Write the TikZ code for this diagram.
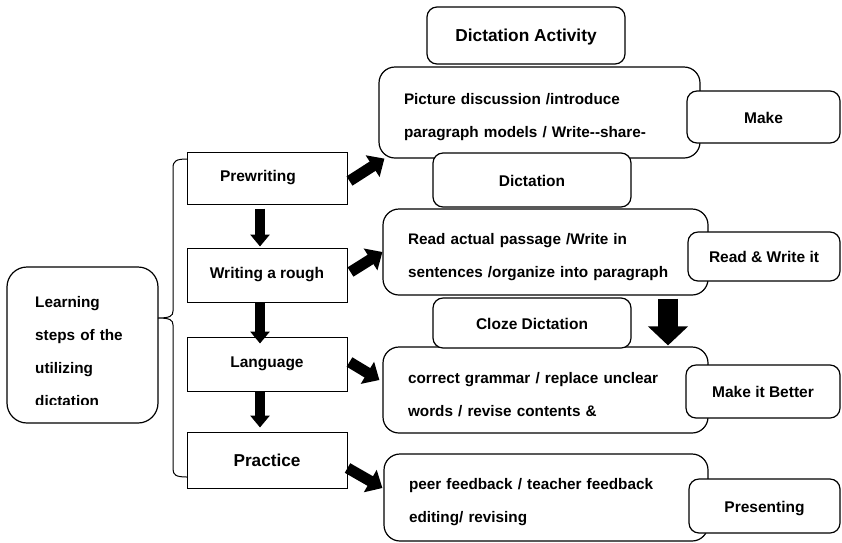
\documentclass[tikz,border=0pt]{standalone}
\usepackage{fontspec}
\setmainfont{Liberation Sans}
\usetikzlibrary{arrows.meta}

\begin{document}
\begin{tikzpicture}[x=1pt, y=-1pt,
    stepbox/.style={rectangle, draw, line width=1pt, minimum width=160pt, inner sep=0pt,
                    font=\fontsize{15.5}{18}\selectfont\bfseries},
    bigbox/.style={rectangle, rounded corners=16pt, draw, line width=1.2pt, inner xsep=25pt,
                   inner ysep=0pt, align=left, font=\fontsize{15.3}{33}\selectfont\bfseries,
                   execute at begin node={\rule{0pt}{21pt}}},
    tagbox/.style={rectangle, rounded corners=10pt, draw, fill=white, line width=1.2pt,
                   inner sep=0pt, text height=12pt, text depth=0pt,
                   font=\fontsize{15.5}{18}\selectfont\bfseries},
    downarrow/.style={-{Triangle[length=12pt, width=19pt]}, line width=10pt},
    sidearrow/.style={-{Triangle[length=14pt, width=25pt]}, line width=11pt},
    bigarrow/.style={-{Triangle[length=19pt, width=39pt]}, line width=20pt},
]
\useasboundingbox (0,0) rectangle (842,542);

% Left box, its text is cut at the bottom
\node[rectangle, rounded corners=20pt, draw, line width=1.2pt, minimum width=151pt, minimum height=156pt] (learn) at (82.5,345) {};
\begin{scope}
\clip (learn.north west) rectangle ([yshift=19pt]learn.south east);
\node[anchor=west, inner sep=0pt, text width=110pt, align=left, font=\fontsize{15.3}{33}\selectfont\bfseries] (learntxt) at (35,352) {Learning\\steps of the\\utilizing\\dictation};
\end{scope}

% Brace
\draw[line width=1pt] (187,159) .. controls (176,159) and (173,161) .. (173,168) -- (173,311)
    .. controls (173,316) and (170,318) .. (158,318) .. controls (170,318) and (173,320) .. (173,325)
    -- (173,469) .. controls (173,475) and (176,477) .. (187,477);

% Steps
\node[stepbox, minimum height=52pt, text width=94pt, inner xsep=33pt, align=left] (pre) at (267,178) {Prewriting};
\node[stepbox, minimum height=54pt] (rough) at (267,275) {Writing a rough};
\node[stepbox, minimum height=54pt] (lang) at (267,364) {Language};
\node[stepbox, minimum height=56pt, font=\fontsize{17.2}{20}\selectfont\bfseries] (prac) at (267,460) {Practice};
\draw[downarrow] ([xshift=-7pt, yshift=-4pt]pre.south) -- ([xshift=-7pt, yshift=1pt]rough.north);
\draw[downarrow] ([xshift=-7pt]rough.south) -- ([xshift=-7pt, yshift=-7pt]lang.north);
\draw[downarrow] ([xshift=-7pt]lang.south) -- ([xshift=-7pt, yshift=4pt]prac.north);

% Activities
\node[bigbox, text width=271pt, minimum height=91pt] (boxA) at (539.5,112.5) {Picture discussion /introduce\\paragraph models / Write-{}-share-};
\node[bigbox, text width=275pt, minimum height=86pt] (boxB) at (545.5,252) {Read actual passage /Write in\\sentences /organize into paragraph};
\node[bigbox, text width=275pt, minimum height=86pt] (boxC) at (545.5,390) {correct grammar / replace unclear\\words / revise contents \&};
\node[bigbox, text width=274pt, minimum height=87pt] (boxD) at (546,497.5) {peer feedback / teacher feedback\\editing/ revising};

% Tags on top
\node[tagbox, minimum width=198pt, minimum height=57pt, font=\fontsize{17.3}{20}\selectfont\bfseries] (act) at (526,35.5) {Dictation Activity};
\node[tagbox, minimum width=153pt, minimum height=52pt] (make) at (763.5,117) {Make};
\node[tagbox, minimum width=198pt, minimum height=54pt] (dict) at (532,180) {Dictation};
\node[tagbox, minimum width=152pt, minimum height=49pt] (rw) at (764,256.5) {Read \& Write it};
\node[tagbox, minimum width=198pt, minimum height=50pt] (cloze) at (532,323) {Cloze Dictation};
\node[tagbox, minimum width=154pt, minimum height=53pt] (better) at (763,391.5) {Make it Better};
\node[tagbox, minimum width=151pt, minimum height=54pt] (pres) at (764.5,506) {Presenting};

% Arrows to the activities
\draw[sidearrow] ([xshift=2pt, yshift=-3pt]pre.east) -- ([xshift=6pt]boxA.south west);
\draw[sidearrow] ([xshift=3pt, yshift=3pt]rough.east) -- (boxB.west);
\draw[sidearrow] ([xshift=2pt, yshift=2pt]lang.east) -- ([xshift=-3pt, yshift=10pt]boxC.west);
\draw[sidearrow] ([yshift=-8pt]prac.east) -- ([xshift=-1pt, yshift=9.5pt]boxD.west);
\draw[bigarrow] ([xshift=122.5pt, yshift=-3pt]boxB.south) -- ([xshift=122.5pt, yshift=1pt]boxC.north);
\end{tikzpicture}
\end{document}
